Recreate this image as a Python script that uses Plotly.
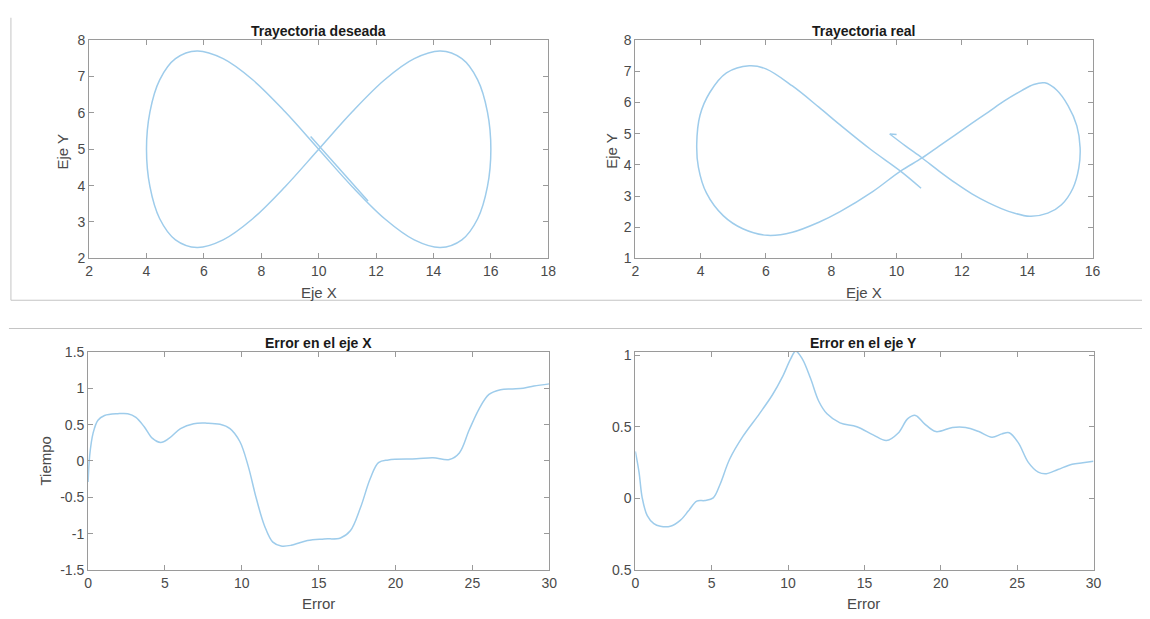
import plotly.graph_objects as go

# ---------------- data ----------------
# Desired trajectory: short start segment, then the closed figure-eight
des_x = [11.72, 9.72, None,
         10.0, 11.17, 12.30, 13.33, 14.24, 14.99, 15.54, 15.88, 16.0, 15.88, 15.54, 14.99,
         14.24, 13.33, 12.30, 11.17, 10.0, 8.83, 7.70, 6.67, 5.76, 5.01, 4.46, 4.12,
         4.0, 4.12, 4.46, 5.01, 5.76, 6.67, 7.70, 8.83, 10.0]
des_y = [3.58, 5.35, None,
         5.0, 6.03, 6.91, 7.49, 7.70, 7.49, 6.91, 6.03, 5.0, 3.97, 3.09, 2.51,
         2.30, 2.51, 3.09, 3.97, 5.0, 6.03, 6.91, 7.49, 7.70, 7.49, 6.91, 6.03,
         5.0, 3.97, 3.09, 2.51, 2.30, 2.51, 3.09, 3.97, 5.0]

# Real trajectory
real_x = [10.0, 9.79, None,
          9.79, 10.28, 10.78, 11.30, 11.81, 12.32, 12.82, 13.45, 14.08, 14.63, 15.05, 15.40,
          15.58, 15.62, 15.52, 15.25, 14.90, 14.54, 14.20, 13.83, 13.30, 12.82, 12.30, 11.81,
          11.30, 10.78, 10.12, 9.28, 8.27, 7.62, 6.81, 6.05, 5.29, 4.69, 4.18, 3.93, 3.88,
          3.98, 4.28, 4.79, 5.49, 6.00, 6.81, 7.62, 8.27, 9.20, 10.12, 10.75]
real_y = [4.97, 4.99, None,
          4.99, 4.60, 4.22, 3.80, 3.41, 3.06, 2.78, 2.50, 2.35, 2.45, 2.72, 3.25,
          3.90, 4.55, 5.25, 5.90, 6.40, 6.63, 6.58, 6.38, 6.05, 5.70, 5.33, 4.97,
          4.60, 4.22, 3.80, 3.15, 2.50, 2.16, 1.84, 1.74, 1.95, 2.37, 3.09, 3.93, 4.66,
          5.59, 6.32, 6.95, 7.18, 7.08, 6.53, 5.85, 5.28, 4.50, 3.80, 3.25]

# Error along X
ex_t = [0, 0.1, 0.32, 0.64, 1.07, 1.93, 2.58, 3.11, 3.65, 4.19, 4.72, 5.26, 6.01, 6.87,
        7.73, 8.58, 9.23, 9.87, 10.41, 10.94, 11.48, 12.02, 12.56, 13.2, 14.27, 15.35,
        16.42, 17.06, 17.71, 18.35, 18.89, 19.53, 21.36, 22.43, 23.5, 24.15, 24.79,
        25.43, 26.08, 26.83, 27.6, 28.3, 29.0, 30]
ex_v = [-0.29, 0.07, 0.38, 0.56, 0.625, 0.65, 0.65, 0.60, 0.47, 0.31, 0.255, 0.31, 0.446,
        0.513, 0.52, 0.505, 0.446, 0.268, -0.067, -0.513, -0.893, -1.116, -1.169, -1.16,
        -1.094, -1.072, -1.058, -0.96, -0.647, -0.245, -0.022, 0.015, 0.03, 0.045, 0.02,
        0.11, 0.425, 0.714, 0.915, 0.98, 0.99, 1.0, 1.03, 1.06]

# Error along Y
ey_t = [0, 0.24, 0.45, 0.78, 1.21, 1.64, 2.29, 2.94, 3.48, 4.02, 4.56, 5.1, 5.53, 6.18,
        7.04, 8.12, 8.99, 9.64, 10.17, 10.5, 10.93, 11.47, 12.01, 12.55, 13.4, 14.5,
        15.57, 16.44, 17.2, 17.84, 18.34, 18.92, 19.68, 20.76, 21.63, 22.49, 23.35, 24.0,
        24.48, 25.08, 25.73, 26.38, 26.92, 27.67, 28.6, 29.3, 30]
ey_v = [0.33, 0.185, 0.005, -0.12, -0.176, -0.194, -0.194, -0.153, -0.086, -0.018, -0.014,
        0.005, 0.095, 0.276, 0.434, 0.592, 0.727, 0.852, 0.976, 1.03, 0.976, 0.84, 0.68,
        0.592, 0.529, 0.502, 0.445, 0.405, 0.456, 0.558, 0.581, 0.524, 0.468, 0.497,
        0.497, 0.468, 0.429, 0.452, 0.46, 0.389, 0.253, 0.185, 0.174, 0.203, 0.24, 0.25,
        0.26]

titles = ["Trayectoria deseada", "Trayectoria real", "Error en el eje X", "Error en el eje Y"]
bl_ticks = [-1.5, -1, -0.5, 0, 0.5, 1, 1.5]
bl_ticktext = ["-1.5", "-1", "-0.5", "0", "0.5", "1", "1.5"]
br_ticks = [-0.5, 0, 0.5, 1]
br_ticktext = ["0.5", "0", "0.5", "1"]

# ---------------- figure ----------------
W, H = 1150, 619
LINE = "rgb(158,204,235)"
FONT = "Liberation Sans, Arial, sans-serif"
AX = "#9a9a9a"
TXT = "#4a4a4a"


def px_x(p):
    return p / W


def px_y(p):
    return 1 - p / H


fig = go.Figure()
common = dict(mode="lines", line=dict(color=LINE, width=1.5, shape="spline", smoothing=1.0),
              showlegend=False, hoverinfo="x+y")
fig.add_trace(go.Scatter(x=des_x, y=des_y, xaxis="x", yaxis="y", **common))
fig.add_trace(go.Scatter(x=real_x, y=real_y, xaxis="x2", yaxis="y2", **common))
fig.add_trace(go.Scatter(x=ex_t, y=ex_v, xaxis="x3", yaxis="y3", **common))
fig.add_trace(go.Scatter(x=ey_t, y=ey_v, xaxis="x4", yaxis="y4", **common))


def axis(domain, rng, dtick=None, anchor=None, tickvals=None, ticktext=None):
    d = dict(domain=domain, range=rng, anchor=anchor, showline=True, linecolor=AX,
             linewidth=1, mirror="ticks", ticks="inside", ticklen=5, tickcolor=AX,
             tickwidth=1, showgrid=False, zeroline=False,
             tickfont=dict(family=FONT, size=14, color=TXT), fixedrange=True)
    if tickvals is not None:
        d.update(tickmode="array", tickvals=tickvals, ticktext=ticktext)
    else:
        d.update(tickmode="linear", tick0=rng[0], dtick=dtick)
    return d


top_y = [px_y(257), px_y(33)]
bot_y = [px_y(577), px_y(353)]
tl_x = [px_x(86), px_x(550)]
tr_x = [px_x(638), px_x(1100)]
bl_x = [px_x(85), px_x(551)]
br_x = [px_x(638), px_x(1101)]

layout = dict(
    width=W, height=H,
    margin=dict(l=0, r=0, t=0, b=0),
    paper_bgcolor="white", plot_bgcolor="white",
    font=dict(family=FONT, size=14, color=TXT),
    xaxis=axis(tl_x, [2, 18], 2, "y"),
    yaxis=axis(top_y, [2, 8], 1, "x"),
    xaxis2=axis(tr_x, [2, 16], 2, "y2"),
    yaxis2=axis(top_y, [1, 8], 1, "x2"),
    xaxis3=axis(bl_x, [0, 30], 5, "y3"),
    yaxis3=axis(bot_y, [-1.5, 1.5], anchor="x3", tickvals=bl_ticks, ticktext=bl_ticktext),
    xaxis4=axis(br_x, [0, 30], 5, "y4"),
    yaxis4=axis(bot_y, [-0.5, 1.025], anchor="x4", tickvals=br_ticks, ticktext=br_ticktext),
)
fig.update_layout(**layout)

ann = []


def label(text, x, y, size=14, bold=False, angle=0, color=TXT):
    ann.append(dict(text=("<b>%s</b>" % text) if bold else text, x=px_x(x), y=px_y(y),
                    xref="paper", yref="paper", showarrow=False, textangle=angle,
                    xanchor="center", yanchor="middle",
                    font=dict(family=FONT, size=size, color=color)))


label(titles[0], 318, 24, bold=True, color="#1a1a1a")
label(titles[1], 869, 24, bold=True, color="#1a1a1a")
label(titles[2], 318, 344, bold=True, color="#1a1a1a")
label(titles[3], 869, 344, bold=True, color="#1a1a1a")
label("Eje X", 318, 292, size=15)
label("Eje X", 869, 292, size=15)
label("Error", 318, 611, size=15)
label("Error", 869, 611, size=15)
label("Eje Y", 59, 147, size=15, angle=-90)
label("Eje Y", 614, 147, size=15, angle=-90)
label("Tiempo", 42, 465, size=15, angle=-90)
fig.update_layout(annotations=ann)

FRAME = "#c4c4c4"
shapes = [
    dict(type="line", xref="paper", yref="paper", x0=px_x(7), x1=px_x(7), y0=px_y(10), y1=px_y(300),
         line=dict(color=FRAME, width=1)),
    dict(type="line", xref="paper", yref="paper", x0=px_x(7), x1=1, y0=px_y(300), y1=px_y(300),
         line=dict(color=FRAME, width=1)),
    dict(type="line", xref="paper", yref="paper", x0=px_x(5), x1=1, y0=px_y(329), y1=px_y(329),
         line=dict(color=FRAME, width=1)),
]
fig.update_layout(shapes=shapes)

fig.write_html("out.html", config={"displayModeBar": False, "staticPlot": False},
               post_script="document.body.style.margin='0';document.body.style.overflow='hidden';")
